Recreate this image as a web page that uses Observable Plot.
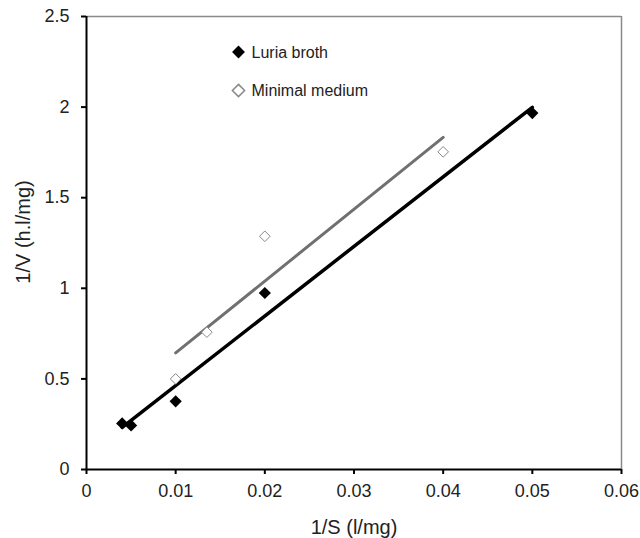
<!DOCTYPE html>
<html>
<head>
<meta charset="utf-8">
<script src="https://cdn.jsdelivr.net/npm/d3@7"></script>
<script src="https://cdn.jsdelivr.net/npm/@observablehq/plot@0.6"></script>
<style>
  html, body { margin: 0; padding: 0; background: #fff; }
  #chart svg { display: block; }
</style>
</head>
<body>
<div id="chart"></div>
<script>
const luriaX = [0.004, 0.005, 0.01, 0.02, 0.05];
const luriaY = [0.254, 0.243, 0.376, 0.974, 1.967];
const minimalX = [0.01, 0.0135, 0.02, 0.04];
const minimalY = [0.50, 0.758, 1.287, 1.753];
const xTicks = [0, 0.01, 0.02, 0.03, 0.04, 0.05, 0.06];
const yTicks = [0, 0.5, 1, 1.5, 2, 2.5];
const seriesNames = ["Luria broth", "Minimal medium"];

const luria = luriaX.map((x, i) => ({x, y: luriaY[i]}));
const minimal = minimalX.map((x, i) => ({x, y: minimalY[i]}));
const fmt = d => String(+d.toFixed(3));

const chart = Plot.plot({
  width: 640,
  height: 538,
  marginLeft: 86,
  marginRight: 19,
  marginTop: 16,
  marginBottom: 69,
  style: {fontFamily: "'Liberation Sans', Arial, sans-serif", background: "#fff", color: "#222"},
  x: {domain: [0, 0.06]},
  y: {domain: [0, 2.5]},
  marks: [
    Plot.ruleY([2.5], {stroke: "#8a8a8a", strokeWidth: 1.5}),
    Plot.ruleX([0.06], {stroke: "#8a8a8a", strokeWidth: 1.5}),
    Plot.axisX({ticks: xTicks, tickFormat: () => "", tickSize: 5, stroke: "#000", strokeWidth: 2, label: null}),
    Plot.axisY({ticks: yTicks, tickFormat: () => "", tickSize: 5, stroke: "#000", strokeWidth: 2, label: null}),
    Plot.text(xTicks, {x: d => d, text: fmt, frameAnchor: "bottom", dy: 22, textAnchor: "middle", lineAnchor: "middle", fontSize: 18, fill: "#222"}),
    Plot.text(yTicks, {y: d => d, text: fmt, frameAnchor: "left", dx: -17, textAnchor: "end", lineAnchor: "middle", fontSize: 18, fill: "#222"}),
    Plot.ruleY([0], {stroke: "#000", strokeWidth: 2}),
    Plot.ruleX([0], {stroke: "#000", strokeWidth: 2}),
    Plot.text(["1/S (l/mg)"], {frameAnchor: "bottom", dy: 58, lineAnchor: "middle", textAnchor: "middle", fontSize: 20, fill: "#222"}),
    Plot.text(["1/V (h.l/mg)"], {frameAnchor: "left", dx: -63, dy: -11, rotate: -90, textAnchor: "middle", lineAnchor: "middle", fontSize: 20, fill: "#222"}),
    Plot.linearRegressionY(minimal, {x: "x", y: "y", stroke: "#707070", strokeWidth: 3, ci: 0}),
    Plot.linearRegressionY(luria, {x: "x", y: "y", stroke: "#000", strokeWidth: 3.5, ci: 0}),
    Plot.dot(minimal, {x: "x", y: "y", symbol: "diamond2", r: 4.8, stroke: "#888", strokeWidth: 1, fill: "#fff"}),
    Plot.dot(luria, {x: "x", y: "y", symbol: "diamond2", r: 5.5, fill: "#000", stroke: "none"}),
    // legend
    Plot.dot([seriesNames[0]], {frameAnchor: "top-left", dx: 152, dy: 35.5, symbol: "diamond2", r: 5.8, fill: "#000", stroke: "none"}),
    Plot.dot([seriesNames[1]], {frameAnchor: "top-left", dx: 152, dy: 74, symbol: "diamond2", r: 5.5, fill: "#fff", stroke: "#888"}),
    Plot.text([seriesNames[0]], {frameAnchor: "top-left", dx: 165, dy: 36, text: d => d, textAnchor: "start", lineAnchor: "middle", fontSize: 16, fill: "#222"}),
    Plot.text([seriesNames[1]], {frameAnchor: "top-left", dx: 165, dy: 74, text: d => d, textAnchor: "start", lineAnchor: "middle", fontSize: 16, fill: "#222"})
  ]
});
document.getElementById("chart").appendChild(chart);
</script>
</body>
</html>
